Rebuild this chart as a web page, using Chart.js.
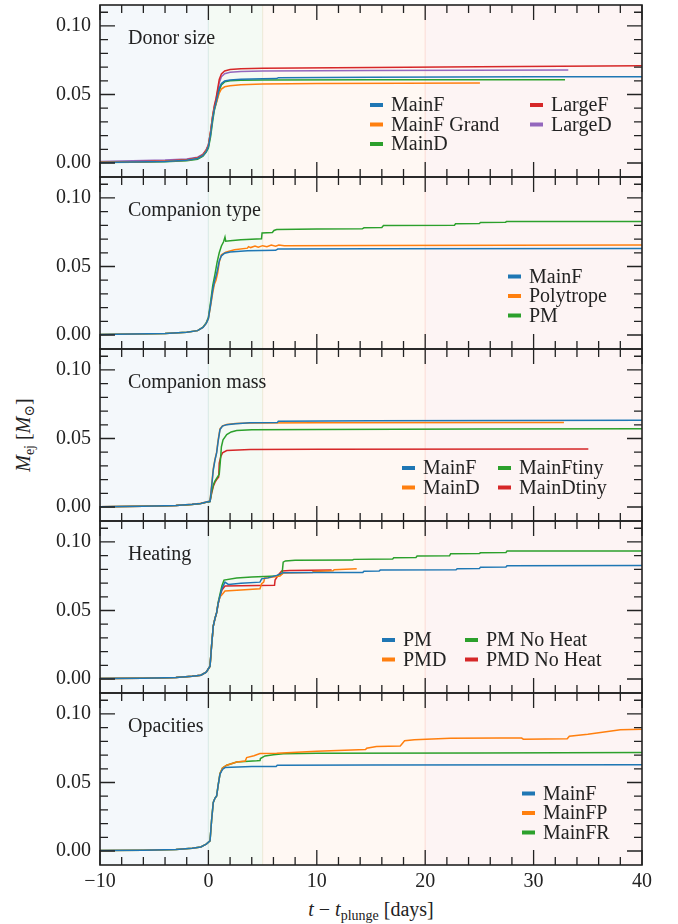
<!DOCTYPE html>
<html>
<head>
<meta charset="utf-8">
<script src="https://cdn.jsdelivr.net/npm/chart.js@4.4.1/dist/chart.umd.min.js"></script>
<style>
  html, body { margin: 0; padding: 0; background: #fff; }
  #fig { position: relative; width: 678px; height: 924px; overflow: hidden;
         font-family: 'Liberation Serif', 'DejaVu Serif', serif; color: #222; }
  #fig canvas { position: absolute; left: 0; }
  .axlabel { position: absolute; font-size: 20px; white-space: nowrap; line-height: 1; }
  .axlabel sub { font-size: 70%; vertical-align: -0.32em; line-height: 0; }
  #ylab { left: 23px; top: 435px; transform: translate(-50%, -50%) rotate(-90deg); }
  #xlab { left: 371px; top: 909px; transform: translate(-50%, -50%); }
</style>
</head>
<body>
<div id="fig">
  <div class="axlabel" id="ylab"><i>M</i><sub>ej</sub> [<i>M</i><sub>⊙</sub>]</div>
  <div class="axlabel" id="xlab"><i>t</i> − <i>t</i><sub>plunge</sub> [days]</div>
</div>
<script>
// ---------- axes ----------
const X_MIN = -10, X_MAX = 40;
const Y_MIN = -0.0102, Y_MAX = 0.1153;
const xMajorTicks = [-10, 0, 10, 20, 30, 40];
const xMinorTicks = [-8, -6, -4, -2, 2, 4, 6, 8, 12, 14, 16, 18, 22, 24, 26, 28, 32, 34, 36, 38];
const yMajorTicks = [0, 0.05, 0.10];
const yMinorTicks = [0.01, 0.02, 0.03, 0.04, 0.06, 0.07, 0.08, 0.09, 0.11];

// phase bands along t - t_plunge
const bandEdges = [-10, 0, 5, 20, 40];
const bandColors = ['31,119,180', '44,160,44', '255,127,14', '214,39,40'];

// ---------- ejected mass, [t - t_plunge (days), M_ej (Msun)] ----------
// Donor size
const donorMainF = [[-10,0.0004],[-7,0.0007],[-4,0.0012],[-2,0.0020],[-1,0.0033],[-0.5,0.0055],[-0.2,0.0085],[0,0.0120],[0.2,0.0210],[0.4,0.0330],[0.55,0.0395],[0.7,0.0440],[0.85,0.0490],[1.0,0.0545],[1.2,0.0580],[1.5,0.0598],[2,0.0606],[3,0.0611],[5,0.0614],[6.3,0.0616],[6.45,0.0623],[15,0.0626],[30,0.0629],[40,0.0630]];
const donorMainFGrand = [[-10,0.0005],[-7,0.0008],[-4,0.0013],[-2,0.0021],[-1,0.0034],[-0.5,0.0058],[-0.2,0.0090],[0,0.0125],[0.2,0.0220],[0.4,0.0340],[0.55,0.0400],[0.7,0.0430],[0.85,0.0470],[1.0,0.0510],[1.2,0.0540],[1.5,0.0556],[2,0.0563],[3,0.0571],[5,0.0577],[10,0.0580],[18,0.0582],[25.05,0.0583]];
const donorMainD = [[-10,0.0003],[-7,0.0006],[-4,0.0010],[-2,0.0017],[-1,0.0028],[-0.5,0.0050],[-0.2,0.0080],[0,0.0110],[0.2,0.0190],[0.4,0.0310],[0.55,0.0385],[0.7,0.0430],[0.85,0.0480],[1.0,0.0530],[1.2,0.0570],[1.5,0.0592],[2,0.0600],[3,0.0604],[5,0.0606],[15,0.0607],[32.9,0.0608]];
const donorLargeF = [[-10,0.0006],[-7,0.0009],[-4,0.0015],[-2,0.0024],[-1,0.0038],[-0.5,0.0062],[-0.2,0.0095],[0,0.0130],[0.2,0.0230],[0.4,0.0350],[0.55,0.0420],[0.7,0.0470],[0.85,0.0540],[1.0,0.0610],[1.2,0.0650],[1.5,0.0672],[2,0.0683],[3,0.0688],[5,0.0691],[15,0.0697],[25,0.0703],[40,0.0710]];
const donorLargeD = [[-10,0.0012],[-7,0.0016],[-4,0.0022],[-2,0.0030],[-1,0.0043],[-0.5,0.0065],[-0.2,0.0098],[0,0.0135],[0.2,0.0230],[0.4,0.0345],[0.55,0.0410],[0.7,0.0460],[0.85,0.0520],[1.0,0.0585],[1.2,0.0630],[1.5,0.0652],[2,0.0663],[3,0.0668],[5,0.0671],[15,0.0675],[33.2,0.0679]];

// Companion type
const typeMainF = [[-10,0.0003],[-7,0.0007],[-4,0.0012],[-2,0.0020],[-1,0.0032],[-0.5,0.0055],[-0.2,0.0085],[0,0.0120],[0.2,0.0220],[0.4,0.0330],[0.55,0.0390],[0.7,0.0430],[0.85,0.0480],[1.0,0.0540],[1.2,0.0578],[1.5,0.0597],[2,0.0606],[3.6,0.0615],[6.2,0.0618],[6.4,0.0627],[15,0.0629],[40,0.0632]];
const typePolytrope = [[-10,0.0003],[-7,0.0007],[-4,0.0012],[-2,0.0020],[-1,0.0032],[-0.5,0.0055],[-0.2,0.0085],[0,0.0120],[0.2,0.0210],[0.4,0.0310],[0.55,0.0370],[0.7,0.0400],[0.85,0.0450],[1.0,0.0530],[1.2,0.0585],[1.6,0.0605],[2.4,0.0622],[3.6,0.0634],[3.7,0.0645],[3.9,0.0638],[4.3,0.0649],[4.6,0.0641],[5.0,0.0652],[5.4,0.0645],[5.8,0.0656],[6.2,0.0648],[6.5,0.0657],[7,0.0651],[15,0.0653],[40,0.0656]];
const typePM = [[-10,0.0003],[-7,0.0007],[-4,0.0012],[-2,0.0020],[-1,0.0032],[-0.5,0.0058],[-0.2,0.0090],[0,0.0130],[0.2,0.0240],[0.4,0.0360],[0.6,0.0440],[0.8,0.0530],[1.0,0.0600],[1.2,0.0650],[1.4,0.0680],[1.53,0.0714],[1.6,0.0685],[2,0.0688],[3,0.0695],[4.9,0.0702],[4.95,0.0744],[5.9,0.0748],[6.05,0.0763],[6.3,0.0770],[10,0.0773],[14.2,0.0775],[14.35,0.0782],[16.0,0.0785],[16.15,0.0799],[22.7,0.0801],[22.8,0.0812],[25.0,0.0814],[25.1,0.0821],[27.4,0.0822],[27.5,0.0828],[40,0.0829]];

// Companion mass
const massMainF = [[-10,0.0002],[-6,0.0005],[-3,0.0012],[-1.5,0.0020],[-0.7,0.0026],[-0.2,0.0036],[0.15,0.0042],[0.3,0.0150],[0.45,0.0270],[0.6,0.0340],[0.76,0.0395],[0.9,0.0480],[1.07,0.0565],[1.3,0.0590],[1.69,0.0601],[2.5,0.0608],[3.84,0.0614],[6.35,0.0616],[6.45,0.0626],[15,0.0629],[40,0.0633]];
const massMainD = [[-10,0.0002],[-6,0.0005],[-3,0.0012],[-1.5,0.0020],[-0.7,0.0027],[-0.2,0.0037],[0.15,0.0045],[0.3,0.0160],[0.45,0.0280],[0.6,0.0345],[0.76,0.0400],[0.9,0.0490],[1.07,0.0570],[1.3,0.0592],[1.69,0.0602],[2.5,0.0609],[3.84,0.0613],[10,0.0614],[32.8,0.0616]];
const massMainFtiny = [[-10,0.0002],[-6,0.0005],[-3,0.0011],[-1.5,0.0019],[-0.7,0.0025],[-0.2,0.0034],[0.15,0.0040],[0.3,0.0110],[0.45,0.0160],[0.6,0.0190],[0.8,0.0215],[1.0,0.0240],[1.1,0.0330],[1.2,0.0440],[1.35,0.0490],[1.69,0.0528],[2.1,0.0548],[2.61,0.0558],[4,0.0563],[10,0.0566],[25,0.0569],[40,0.0572]];
const massMainDtiny = [[-10,0.0002],[-6,0.0005],[-3,0.0011],[-1.5,0.0019],[-0.7,0.0025],[-0.2,0.0034],[0.15,0.0040],[0.3,0.0100],[0.45,0.0150],[0.6,0.0180],[0.76,0.0200],[0.95,0.0220],[1.0,0.0320],[1.15,0.0370],[1.3,0.0395],[1.69,0.0412],[3.84,0.0419],[10,0.0421],[35.05,0.0424]];

// Heating
const heatPM = [[-10,0.0003],[-6,0.0006],[-3,0.0012],[-1.5,0.0020],[-0.7,0.0028],[-0.2,0.0050],[0.15,0.0094],[0.3,0.0250],[0.45,0.0386],[0.6,0.0440],[0.76,0.0484],[0.9,0.0550],[1.07,0.0605],[1.25,0.0660],[1.53,0.0707],[1.84,0.0690],[3,0.0698],[4.76,0.0707],[4.91,0.0731],[5.5,0.0738],[6.3,0.0756],[6.9,0.0776],[10,0.0777],[14.25,0.0778],[14.35,0.0786],[15.75,0.0788],[15.85,0.0795],[22.85,0.0797],[22.95,0.0805],[25,0.0807],[25.1,0.0815],[27.45,0.0817],[27.55,0.0827],[40,0.0828]];
const heatPMD = [[-10,0.0003],[-6,0.0006],[-3,0.0012],[-1.5,0.0020],[-0.7,0.0028],[-0.2,0.0050],[0.15,0.0094],[0.3,0.0250],[0.45,0.0386],[0.6,0.0440],[0.76,0.0484],[0.9,0.0550],[1.07,0.0600],[1.25,0.0615],[1.53,0.0642],[3,0.0650],[4.76,0.0659],[4.91,0.0695],[5.1,0.0707],[5.2,0.0737],[5.5,0.0738],[6.6,0.0751],[6.9,0.0773],[9.6,0.0778],[9.7,0.0785],[11.5,0.0790],[11.6,0.0798],[13.68,0.0805]];
const heatPMNoHeat = [[-10,0.0003],[-6,0.0006],[-3,0.0012],[-1.5,0.0020],[-0.7,0.0028],[-0.2,0.0050],[0.15,0.0094],[0.3,0.0250],[0.45,0.0386],[0.6,0.0440],[0.76,0.0484],[0.9,0.0560],[1.07,0.0620],[1.25,0.0680],[1.44,0.0722],[2.6,0.0737],[4,0.0744],[6.3,0.0751],[6.8,0.0770],[6.9,0.0853],[7.1,0.0862],[8,0.0866],[13.3,0.0868],[13.4,0.0873],[17,0.0876],[17.1,0.0885],[19.15,0.0887],[19.25,0.0897],[22.25,0.0900],[22.35,0.0914],[25,0.0916],[25.1,0.0921],[27.45,0.0924],[27.55,0.0934],[40,0.0935]];
const heatPMDNoHeat = [[-10,0.0003],[-6,0.0006],[-3,0.0012],[-1.5,0.0020],[-0.7,0.0028],[-0.2,0.0050],[0.15,0.0094],[0.3,0.0250],[0.45,0.0386],[0.6,0.0440],[0.76,0.0484],[0.9,0.0550],[1.07,0.0605],[1.25,0.0650],[1.53,0.0678],[3,0.0681],[6.1,0.0685],[6.15,0.0722],[6.45,0.0759],[6.76,0.0788],[7.5,0.0791],[11.37,0.0795]];

// Opacities
const opacMainF = [[-10,0.0003],[-6,0.0006],[-3,0.0012],[-1.5,0.0020],[-0.7,0.0030],[-0.2,0.0050],[0.15,0.0074],[0.3,0.0230],[0.45,0.0354],[0.6,0.0385],[0.76,0.0402],[0.9,0.0480],[1.07,0.0560],[1.3,0.0595],[1.53,0.0609],[2.1,0.0612],[4,0.0616],[6.25,0.0617],[6.35,0.0626],[15,0.0627],[40,0.0629]];
const opacMainFP = [[-10,0.0003],[-6,0.0006],[-3,0.0012],[-1.5,0.0020],[-0.7,0.0030],[-0.2,0.0050],[0.15,0.0074],[0.3,0.0230],[0.45,0.0354],[0.6,0.0385],[0.76,0.0402],[0.9,0.0480],[1.07,0.0565],[1.3,0.0605],[1.69,0.0626],[2.61,0.0650],[3.4,0.0656],[3.53,0.0682],[4.2,0.0695],[4.76,0.0712],[6.3,0.0714],[10,0.0728],[14.5,0.0741],[14.6,0.0750],[15.5,0.0763],[17.7,0.0767],[18.1,0.0804],[19,0.0812],[22.3,0.0823],[26.9,0.0824],[28.9,0.0824],[29.05,0.0816],[33.1,0.0819],[33.3,0.0838],[35,0.0852],[37.35,0.0877],[38,0.0885],[40,0.0889]];
const opacMainFR = [[-10,0.0003],[-6,0.0006],[-3,0.0012],[-1.5,0.0020],[-0.7,0.0030],[-0.2,0.0050],[0.15,0.0074],[0.3,0.0230],[0.45,0.0354],[0.6,0.0385],[0.76,0.0402],[0.9,0.0480],[1.07,0.0565],[1.3,0.0605],[1.69,0.0626],[2.61,0.0650],[4.46,0.0658],[4.76,0.0660],[4.8,0.0675],[5.22,0.0694],[6.0,0.0703],[6.91,0.0709],[10,0.0713],[25,0.0716],[40,0.0719]];

// ---------- panel definitions ----------
const C_BLUE = '#1f77b4', C_ORANGE = '#ff7f0e', C_GREEN = '#2ca02c', C_RED = '#d62728', C_PURPLE = '#9467bd';
const panelTitles = ['Donor size', 'Companion type', 'Companion mass', 'Heating', 'Opacities'];

const panels = [
  { series: [
      { name: 'MainF', data: donorMainF, color: C_BLUE },
      { name: 'MainF Grand', data: donorMainFGrand, color: C_ORANGE },
      { name: 'MainD', data: donorMainD, color: C_GREEN },
      { name: 'LargeF', data: donorLargeF, color: C_RED },
      { name: 'LargeD', data: donorLargeD, color: C_PURPLE } ],
    legend: { columns: [[0, 1, 2], [3, 4]], x: [370, 530], top: 100 } },
  { series: [
      { name: 'MainF', data: typeMainF, color: C_BLUE },
      { name: 'Polytrope', data: typePolytrope, color: C_ORANGE },
      { name: 'PM', data: typePM, color: C_GREEN } ],
    legend: { columns: [[0, 1, 2]], x: [508], top: 99.5 } },
  { series: [
      { name: 'MainF', data: massMainF, color: C_BLUE },
      { name: 'MainD', data: massMainD, color: C_ORANGE },
      { name: 'MainFtiny', data: massMainFtiny, color: C_GREEN },
      { name: 'MainDtiny', data: massMainDtiny, color: C_RED } ],
    legend: { columns: [[0, 1], [2, 3]], x: [402, 498], top: 119 } },
  { series: [
      { name: 'PM', data: heatPM, color: C_BLUE },
      { name: 'PMD', data: heatPMD, color: C_ORANGE },
      { name: 'PM No Heat', data: heatPMNoHeat, color: C_GREEN },
      { name: 'PMD No Heat', data: heatPMDNoHeat, color: C_RED } ],
    legend: { columns: [[0, 1], [2, 3]], x: [382, 465], top: 119 } },
  { series: [
      { name: 'MainF', data: opacMainF, color: C_BLUE },
      { name: 'MainFP', data: opacMainFP, color: C_ORANGE },
      { name: 'MainFR', data: opacMainFR, color: C_GREEN } ],
    legend: { columns: [[0, 1, 2]], x: [522], top: 100.5 } }
];

// ---------- drawing helpers ----------
const FONT = "'Liberation Serif', 'DejaVu Serif', serif";
const INK = '#222';
const PANEL_TOP = 5, PANEL_H = 172, PAD = 6, XAXIS_H = 34;

const bandPlugin = {
  id: 'bands',
  beforeDatasetsDraw(chart) {
    const { ctx, chartArea: a, scales: { x } } = chart;
    ctx.save();
    for (let i = 0; i < bandColors.length; i++) {
      const x0 = x.getPixelForValue(bandEdges[i]);
      const x1 = x.getPixelForValue(bandEdges[i + 1]);
      ctx.fillStyle = `rgba(${bandColors[i]},0.05)`;
      ctx.fillRect(x0, a.top, x1 - x0, a.bottom - a.top);
      ctx.strokeStyle = `rgba(${bandColors[i]},0.06)`;
      ctx.lineWidth = 1.2;
      ctx.beginPath();
      ctx.moveTo(x0, a.top); ctx.lineTo(x0, a.bottom);
      ctx.moveTo(x1, a.top); ctx.lineTo(x1, a.bottom);
      ctx.stroke();
    }
    ctx.restore();
  }
};

const framePlugin = {
  id: 'frame',
  afterDatasetsDraw(chart) {
    const { ctx, chartArea: a, scales: { x, y } } = chart;
    ctx.save();
    ctx.strokeStyle = INK;
    ctx.lineWidth = 1.3;
    ctx.beginPath();
    const xt = (vals, len) => {
      for (const v of vals) {
        const px = x.getPixelForValue(v);
        ctx.moveTo(px, a.bottom); ctx.lineTo(px, a.bottom - len);
        ctx.moveTo(px, a.top); ctx.lineTo(px, a.top + len);
      }
    };
    const yt = (vals, len) => {
      for (const v of vals) {
        const py = y.getPixelForValue(v);
        ctx.moveTo(a.left, py); ctx.lineTo(a.left + len, py);
        ctx.moveTo(a.right, py); ctx.lineTo(a.right - len, py);
      }
    };
    xt(xMajorTicks, 15); xt(xMinorTicks, 8);
    yt(yMajorTicks, 15); yt(yMinorTicks, 8);
    ctx.stroke();
    ctx.lineWidth = 1.6;
    ctx.strokeRect(a.left, a.top, a.right - a.left, a.bottom - a.top);
    ctx.restore();
  }
};

const textPlugin = {
  id: 'panelText',
  afterDraw(chart, args, opts) {
    const { ctx, chartArea: a } = chart;
    const p = opts.panel;
    ctx.save();
    ctx.font = `20px ${FONT}`;
    ctx.fillStyle = INK;
    ctx.textBaseline = 'middle';
    ctx.textAlign = 'left';
    ctx.fillText(opts.title, a.left + 28, a.top + 33.5);
    const lg = p.legend;
    lg.columns.forEach((col, c) => {
      col.forEach((si, r) => {
        const s = p.series[si];
        const yy = a.top + lg.top + r * 19.5;
        const mx = lg.x[c];
        ctx.fillStyle = s.color;
        ctx.fillRect(mx, yy - 2, 13, 4);
        ctx.fillStyle = INK;
        ctx.fillText(s.name, mx + 21, yy + 1);
      });
    });
    ctx.restore();
  }
};

// ---------- build the stacked panels ----------
const fig = document.getElementById('fig');
panels.forEach((p, i) => {
  const last = i === panels.length - 1;
  const canvas = document.createElement('canvas');
  const top = PANEL_TOP + i * PANEL_H - PAD;
  const h = PAD + PANEL_H + (last ? XAXIS_H : PAD);
  canvas.width = 678; canvas.height = h;
  canvas.style.top = top + 'px';
  canvas.style.width = '678px'; canvas.style.height = h + 'px';
  fig.appendChild(canvas);

  new Chart(canvas, {
    type: 'line',
    data: {
      datasets: p.series.map(s => ({
        label: s.name,
        data: s.data.map(([t, m]) => ({ x: t, y: m })),
        borderColor: s.color,
        backgroundColor: s.color,
        borderWidth: 1.5,
        pointRadius: 0,
        tension: 0,
        fill: false
      }))
    },
    options: {
      responsive: false,
      animation: false,
      devicePixelRatio: 1,
      events: [],
      layout: { padding: { top: PAD, bottom: last ? 0 : PAD, left: 0, right: 36 } },
      plugins: {
        legend: { display: false },
        tooltip: { enabled: false },
        panelText: { title: panelTitles[i], panel: p }
      },
      scales: {
        x: {
          type: 'linear', min: X_MIN, max: X_MAX, display: last,
          grid: { display: false, drawTicks: false }, border: { display: false },
          afterBuildTicks: s => { s.ticks = xMajorTicks.map(v => ({ value: v })); },
          afterFit: s => { if (last) s.height = XAXIS_H; s.paddingLeft = 0; s.paddingRight = 0; },
          ticks: {
            autoSkip: false, maxRotation: 0, minRotation: 0, padding: 5, color: INK,
            font: { family: FONT, size: 20 },
            callback: v => String(v).replace('-', '\u2212')
          }
        },
        y: {
          type: 'linear', min: Y_MIN, max: Y_MAX,
          grid: { display: false, drawTicks: false }, border: { display: false },
          afterBuildTicks: s => { s.ticks = yMajorTicks.map(v => ({ value: v })); },
          afterFit: s => { s.width = 100; s.paddingTop = 0; s.paddingBottom = 0; },
          ticks: {
            padding: 9, color: INK,
            font: { family: FONT, size: 20 },
            callback: v => Number(v).toFixed(2)
          }
        }
      }
    },
    plugins: [bandPlugin, framePlugin, textPlugin]
  });
});
</script>
</body>
</html>
